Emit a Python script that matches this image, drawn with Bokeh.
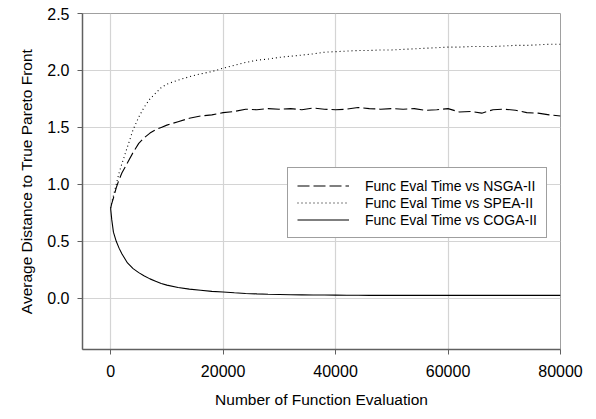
from bokeh.plotting import figure
from bokeh.models import Legend, LegendItem, FixedTicker, Range1d
from bokeh.embed import file_html
from bokeh.resources import INLINE

evals = [0, 200, 500, 1000, 1500, 2000, 3000, 4000, 5000, 6000, 7000, 8000, 9000, 10000,
         12000, 14000, 16000, 18000, 20000, 22000, 24000, 26000, 28000, 30000, 32000,
         34000, 36000, 38000, 40000, 42000, 44000, 46000, 48000, 50000, 52000, 54000,
         56000, 58000, 60000, 62000, 64000, 66000, 68000, 70000, 72000, 74000, 76000,
         78000, 80000]

nsga2 = [0.79, 0.83, 0.88, 0.97, 1.04, 1.10, 1.19, 1.28, 1.36, 1.41, 1.45, 1.48, 1.50, 1.52,
         1.55, 1.58, 1.60, 1.61, 1.63, 1.64, 1.66, 1.655, 1.665, 1.66, 1.665,
         1.655, 1.67, 1.66, 1.655, 1.66, 1.675, 1.665, 1.66, 1.665, 1.66, 1.665,
         1.65, 1.655, 1.665, 1.635, 1.64, 1.625, 1.655, 1.66, 1.65, 1.63, 1.625,
         1.61, 1.60]

spea2 = [0.79, 0.84, 0.90, 1.00, 1.10, 1.18, 1.33, 1.48, 1.59, 1.68, 1.75, 1.80, 1.85, 1.88,
         1.915, 1.945, 1.97, 1.99, 2.02, 2.045, 2.07, 2.09, 2.10, 2.115, 2.125,
         2.135, 2.145, 2.16, 2.165, 2.17, 2.175, 2.175, 2.18, 2.18, 2.185, 2.19,
         2.195, 2.20, 2.205, 2.205, 2.21, 2.21, 2.21, 2.215, 2.22, 2.22, 2.225,
         2.23, 2.23]

coga2 = [0.79, 0.69, 0.58, 0.50, 0.44, 0.39, 0.31, 0.26, 0.225, 0.195, 0.17, 0.15, 0.13, 0.115,
         0.095, 0.08, 0.07, 0.06, 0.055, 0.048, 0.042, 0.038, 0.035, 0.033, 0.031,
         0.030, 0.029, 0.028, 0.027, 0.026, 0.026, 0.025, 0.025, 0.025, 0.025, 0.025,
         0.025, 0.025, 0.025, 0.025, 0.025, 0.025, 0.025, 0.025, 0.025, 0.025, 0.025,
         0.025, 0.025]

series_labels = ["Func Eval Time vs NSGA-II", "Func Eval Time vs SPEA-II", "Func Eval Time vs COGA-II"]
x_ticks = [0, 20000, 40000, 60000, 80000]
y_ticks = [0.0, 0.5, 1.0, 1.5, 2.0, 2.5]

FONT = "Liberation Sans"

p = figure(width=596, height=419, output_backend="svg", toolbar_location=None,
           x_range=Range1d(-5000, 80000), y_range=Range1d(-0.45, 2.5),
           min_border_left=82, min_border_right=36, min_border_top=13, min_border_bottom=70)
p.background_fill_color = "white"
p.border_fill_color = "white"
p.outline_line_color = "#a0a0a0"
p.outline_line_width = 1

for ax in (p.xaxis, p.yaxis):
    ax.axis_line_color = "#606060"
    ax.axis_line_width = 1.5
    ax.major_tick_line_color = "#606060"
    ax.major_tick_out = 5
    ax.major_tick_in = 0
    ax.minor_tick_line_color = None
    ax.major_label_text_font = FONT
    ax.major_label_text_color = "black"
    ax.axis_label_text_font = FONT
    ax.axis_label_text_font_style = "normal"
    ax.axis_label_text_color = "black"

p.xaxis.ticker = FixedTicker(ticks=x_ticks)
p.yaxis.ticker = FixedTicker(ticks=y_ticks)
p.xaxis.major_label_overrides = {t: str(t) for t in x_ticks}
p.yaxis.major_label_overrides = {t: f"{t:.1f}" for t in y_ticks}
p.xaxis.major_label_text_font_size = "16px"
p.yaxis.major_label_text_font_size = "16px"
p.xaxis.major_label_standoff = 10
p.yaxis.major_label_standoff = 8
p.xaxis.axis_label = "Number of Function Evaluation"
p.yaxis.axis_label = "Average Distance to True Pareto Front"
p.xaxis.axis_label_text_font_size = "15.5px"
p.yaxis.axis_label_text_font_size = "15.5px"
p.xaxis.axis_label_standoff = 11
p.yaxis.axis_label_standoff = 9

p.xgrid.grid_line_color = "#d4d4d4"
p.ygrid.grid_line_color = "#d4d4d4"
p.xgrid.grid_line_width = 1.2
p.ygrid.grid_line_width = 1.2

r1 = p.line(evals, nsga2, line_color="black", line_width=1.1, line_dash="12 4")
r2 = p.line(evals, spea2, line_color="black", line_width=1.1, line_dash="1 3")
r3 = p.line(evals, coga2, line_color="black", line_width=1.1)

legend = Legend(items=[LegendItem(label=series_labels[0], renderers=[r1]),
                       LegendItem(label=series_labels[1], renderers=[r2]),
                       LegendItem(label=series_labels[2], renderers=[r3])],
                location=(205, 111))
legend.label_text_font = FONT
legend.label_text_font_size = "14px"
legend.label_text_color = "black"
legend.glyph_width = 52
legend.glyph_height = 17
legend.label_height = 17
legend.label_standoff = 16
legend.spacing = 0
legend.padding = 9
legend.margin = 0
legend.border_line_color = "#404040"
legend.border_line_width = 1
legend.background_fill_color = "white"
legend.background_fill_alpha = 1
p.add_layout(legend)

open("out.html", "w").write(file_html(p, INLINE))
